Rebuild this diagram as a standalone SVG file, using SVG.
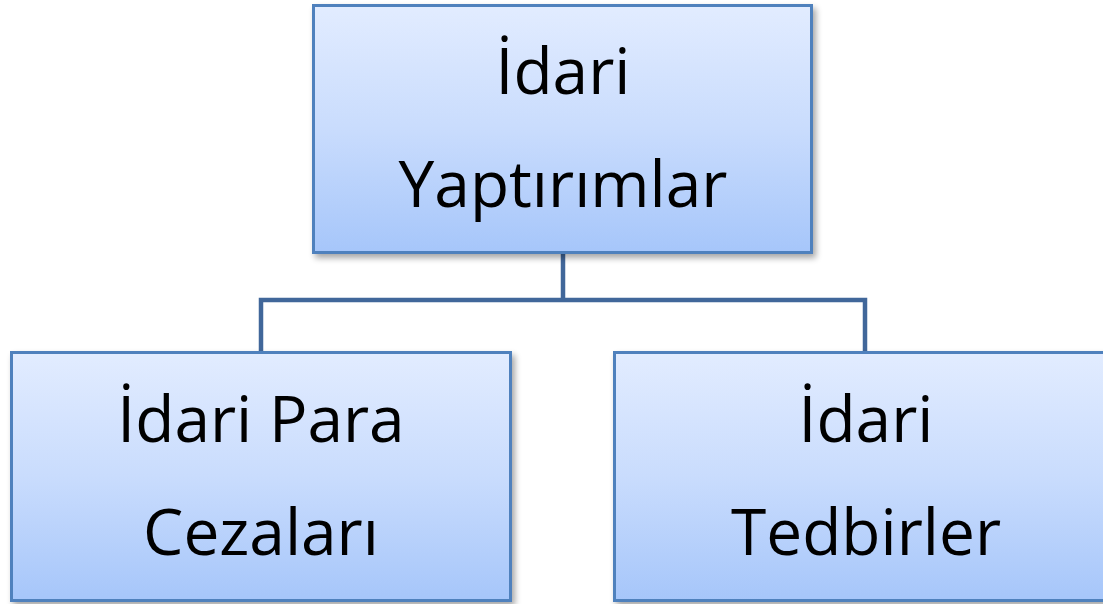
<svg xmlns="http://www.w3.org/2000/svg" width="1103" height="604" viewBox="0 0 1103 604">
<defs>
<linearGradient id="g" x1="0" y1="0" x2="0" y2="1">
<stop offset="0" stop-color="#e2ecff"/>
<stop offset="0.5" stop-color="#c9dcfd"/>
<stop offset="1" stop-color="#a6c6fa"/>
</linearGradient>
<filter id="sh" x="-5%" y="-5%" width="115%" height="115%">
<feGaussianBlur in="SourceAlpha" stdDeviation="3"/>
<feOffset dx="3" dy="4" result="b"/>
<feComponentTransfer><feFuncA type="linear" slope="0.35"/></feComponentTransfer>
<feMerge><feMergeNode/><feMergeNode in="SourceGraphic"/></feMerge>
</filter>
</defs>
<style>
.box{fill:url(#g);stroke:#4f81bd;stroke-width:3;filter:url(#sh)}
.t{font-family:"Open Sans","Liberation Sans",sans-serif;font-size:64px;fill:#000;text-anchor:middle}
.c{fill:none;stroke:#41679a;stroke-width:4.5}
</style>
<g id="connectors">
<path class="c" d="M563 253 V300 M261 354 V300 H865 V354"/>
</g>
<g id="top">
<rect class="box" x="313.5" y="5.5" width="498" height="247"/>
<text class="t" x="563" y="94">İdari</text>
<text class="t" x="563" y="207">Yaptırımlar</text>
</g>
<g id="left">
<rect class="box" x="11.5" y="352.5" width="499" height="248"/>
<text class="t" x="261" y="442">İdari Para</text>
<text class="t" x="261" y="555">Cezaları</text>
</g>
<g id="right">
<rect class="box" x="614.5" y="352.5" width="503" height="248"/>
<text class="t" x="866" y="442">İdari</text>
<text class="t" x="866" y="555">Tedbirler</text>
</g>
</svg>
